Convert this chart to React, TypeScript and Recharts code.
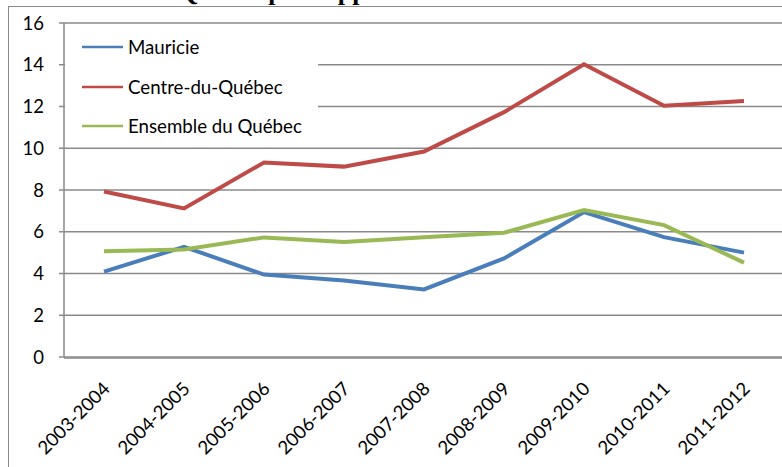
import { LineChart, Line, XAxis, YAxis, CartesianGrid } from 'recharts'

const periods = [
  '2003-2004',
  '2004-2005',
  '2005-2006',
  '2006-2007',
  '2007-2008',
  '2008-2009',
  '2009-2010',
  '2010-2011',
  '2011-2012',
]
const mauricie = [4.09, 5.28, 3.95, 3.66, 3.24, 4.72, 6.94, 5.74, 5.0]
const centreDuQuebec = [7.93, 7.12, 9.32, 9.12, 9.84, 11.73, 14.02, 12.04, 12.26]
const ensembleQuebec = [5.06, 5.15, 5.73, 5.51, 5.74, 5.95, 7.04, 6.32, 4.52]

const seriesNames = ['Mauricie', 'Centre-du-Québec', 'Ensemble du Québec']
const seriesColors = ['#4a7ebb', '#be4b48', '#98b954']
const yTicks = [0, 2, 4, 6, 8, 10, 12, 14, 16]
const boundaryTicks = [0, 1, 2, 3, 4, 5, 6, 7, 8, 9]

const data = periods.map((p, i) => ({
  period: p,
  s0: mauricie[i],
  s1: centreDuQuebec[i],
  s2: ensembleQuebec[i],
}))

const gray = '#8a8a8a'
const font = 'Lato, "Open Sans", sans-serif'

function PeriodTick(props: any) {
  const { x, y, payload } = props
  const ax = x + 7
  const ay = y + 33
  return (
    <text
      x={ax}
      y={ay}
      transform={`rotate(-45, ${ax}, ${ay})`}
      textAnchor="end"
      fontSize={18.5}
      fontFamily={font}
      fill="#000"
    >
      {payload.value}
    </text>
  )
}

export default function App() {
  return (
    <div
      style={{
        position: 'absolute',
        left: 0,
        top: 0,
        width: 782,
        height: 467,
        overflow: 'hidden',
        background: '#fff',
      }}
    >
      {/* title, mostly cut off above the frame */}
      <svg width={782} height={10} style={{ position: 'absolute', left: 0, top: 0 }}>
        <text
          x={178}
          y={-0.5}
          fontFamily='"Liberation Serif", "Times New Roman", serif'
          fontWeight="bold"
          fontSize={26}
          fill="#000"
        >
          Québec par rapport
        </text>
      </svg>

      {/* chart frame */}
      <div
        style={{
          position: 'absolute',
          left: 8,
          top: 6,
          width: 820,
          height: 520,
          border: `1px solid ${gray}`,
        }}
      />

      <div style={{ position: 'absolute', left: 0, top: 0 }}>
        <LineChart
          width={800}
          height={467}
          data={data}
          margin={{ top: 23, right: 16, bottom: 108, left: 0 }}
        >
          <CartesianGrid
            vertical={false}
            stroke={gray}
            strokeWidth={1.5}
            strokeDasharray=""
          />
          <XAxis
            dataKey="period"
            scale="band"
            height={1}
            axisLine={false}
            tickLine={false}
            tickSize={0}
            tickMargin={0}
            interval={0}
            tick={PeriodTick}
          />
          <XAxis
            xAxisId="frame"
            type="number"
            domain={[0, 9]}
            ticks={boundaryTicks}
            allowDataOverflow
            height={1}
            tick={false}
            tickSize={5}
            axisLine={{ stroke: gray, strokeWidth: 1.5 }}
            tickLine={{ stroke: gray, strokeWidth: 1.5 }}
          />
          <YAxis
            width={64}
            domain={[0, 16]}
            ticks={yTicks}
            interval={0}
            tickSize={5}
            tickMargin={15}
            axisLine={{ stroke: gray, strokeWidth: 1.5 }}
            tickLine={{ stroke: gray, strokeWidth: 1.5 }}
            tick={{ fontSize: 18.5, fontFamily: font, fill: '#000' }}
          />
          {['s0', 's1', 's2'].map((k, i) => (
            <Line
              key={k}
              dataKey={k}
              name={seriesNames[i]}
              stroke={seriesColors[i]}
              strokeWidth={4}
              dot={false}
              activeDot={false}
              isAnimationActive={false}
            />
          ))}
        </LineChart>
      </div>

      {/* legend box */}
      <div
        style={{
          position: 'absolute',
          left: 65,
          top: 28,
          width: 253,
          height: 113,
          background: '#fff',
          fontFamily: font,
          fontSize: 18.7,
          color: '#000',
        }}
      >
        {seriesNames.map((n, i) => (
          <div
            key={n}
            style={{
              position: 'absolute',
              left: 17,
              top: 6 + i * 39.5,
              height: 26,
              display: 'flex',
              alignItems: 'center',
              whiteSpace: 'nowrap',
            }}
          >
            <svg width={41} height={4} style={{ marginRight: 5 }}>
              <line x1={0} y1={2} x2={41} y2={2} stroke={seriesColors[i]} strokeWidth={2.5} />
            </svg>
            <span>{n}</span>
          </div>
        ))}
      </div>
    </div>
  )
}
